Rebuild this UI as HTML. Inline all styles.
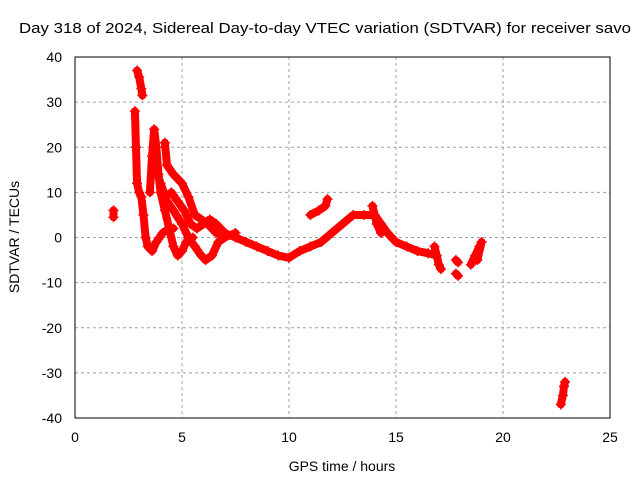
<!DOCTYPE html>
<html><head><meta charset="utf-8"><style>
body{margin:0;background:#fff}
svg{font-family:"Liberation Sans",sans-serif;font-size:14px}
</style></head><body>
<svg id="chart" width="640" height="480">
<text x="325" y="33" text-anchor="middle" textLength="612" lengthAdjust="spacingAndGlyphs" style="font-size:15px">Day 318 of 2024, Sidereal Day-to-day VTEC variation (SDTVAR) for receiver savo</text>
<g id="grid"></g><g id="ticks"></g><g id="marks"></g>
<rect x="75" y="57" width="535" height="361" fill="none" stroke="#000"/>
<text x="342" y="471" text-anchor="middle">GPS time / hours</text>
<text transform="translate(19,237) rotate(-90)" text-anchor="middle">SDTVAR / TECUs</text>
</svg>
<script>
const xTicks=[0,5,10,15,20,25];
const yTicks=[-40,-30,-20,-10,0,10,20,30,40];
const seriesA=[[1.8,6],[1.8,4.5]];
const seriesB=[[2.9,37],[3.0,35.5],[3.1,33],[3.15,31.5]];
const seriesC=[[2.8,28],[2.85,20],[2.9,12],[3.0,10],[3.1,9],[3.2,5],[3.3,0],[3.4,-2],[3.6,-3],[3.8,-1],[4.1,1],[4.4,2],[4.6,2]];
const seriesD=[[3.5,10],[3.6,18],[3.7,24],[3.8,20],[3.9,14],[4.0,10],[4.2,6],[4.4,2],[4.6,-2],[4.8,-4],[5.0,-3],[5.2,-1],[5.5,0]];
const seriesE=[[4.2,21],[4.3,16],[4.6,14],[5.0,12],[5.3,9],[5.6,5],[5.9,4],[6.2,3],[6.6,1],[7.0,1],[7.5,0],[8,-1],[8.5,-2],[9,-3],[9.5,-4],[10,-4.5],[10.5,-3],[11,-2],[11.5,-1],[12,1],[12.5,3],[13,5],[13.5,5],[14,5],[14.3,3],[14.6,1],[15,-1],[15.5,-2],[16,-3],[16.5,-3.5],[16.9,-4]];
const seriesF=[[3.8,15],[4.0,12],[4.3,8],[4.6,6],[5.0,3],[5.3,0],[5.6,-2],[5.9,-4],[6.1,-5],[6.4,-4],[6.7,-1],[7.0,0],[7.5,1]];
const seriesG=[[4.5,10],[4.8,8],[5.1,6],[5.4,3],[5.7,2],[6.0,3],[6.3,4],[6.6,3],[7.0,1]];
const seriesH=[[11.0,5],[11.4,6],[11.7,7],[11.8,8.5]];
const seriesI=[[13.9,7],[14.0,5],[14.1,3],[14.3,1]];
const seriesJ=[[16.8,-2],[16.9,-4],[17.0,-6],[17.1,-7]];
const seriesK=[[17.8,-5],[17.9,-5.5]];
const seriesK2=[[17.8,-8],[17.9,-8.5]];
const seriesL=[[18.5,-6],[18.7,-4],[18.9,-2],[19.0,-1],[18.8,-5]];
const seriesM=[[22.7,-37],[22.8,-35],[22.85,-33],[22.9,-32]];
const allSeries=[seriesA,seriesB,seriesC,seriesD,seriesE,seriesF,seriesG,seriesH,seriesI,seriesJ,seriesK,seriesK2,seriesL,seriesM];
const X=v=>75+v*(535/25), Y=v=>237.5-v*(361/80);
const NS="http://www.w3.org/2000/svg";
const grid=document.getElementById('grid'),ticks=document.getElementById('ticks'),marks=document.getElementById('marks');
function mk(t,a,p){const e=document.createElementNS(NS,t);for(const k in a)e.setAttribute(k,a[k]);p.appendChild(e);return e;}
xTicks.forEach(v=>{
 if(v>0&&v<25){const g=mk('line',{x1:X(v),x2:X(v),y1:57,y2:418,stroke:'#a0a0a0','stroke-dasharray':'3,3'},grid);
 
 }
 const t=mk('text',{x:X(v),y:442,'text-anchor':'middle'},ticks);t.textContent=v;
 
 
});
yTicks.forEach(v=>{
 if(v>-40&&v<40){const g=mk('line',{x1:75,x2:610,y1:Y(v),y2:Y(v),stroke:'#a0a0a0','stroke-dasharray':'3,3'},grid);
 
 }
 const t=mk('text',{x:62,y:Y(v)+5,'text-anchor':'end'},ticks);t.textContent=v;
 
 
});
allSeries.forEach(s=>{
 const pl=mk('polyline',{points:s.map(p=>X(p[0])+','+Y(p[1])).join(' '),fill:'none',stroke:'#f00','stroke-width':8,'stroke-linejoin':'round','stroke-linecap':'round'},marks);
 
 
 s.forEach(p=>{const x=X(p[0]),y=Y(p[1]);
  const m=mk('path',{d:`M${x-5},${y}H${x+5}M${x},${y-5}V${y+5}`,stroke:'#f00','stroke-width':1.5},marks);
  
  });
});
</script>
</body></html>
